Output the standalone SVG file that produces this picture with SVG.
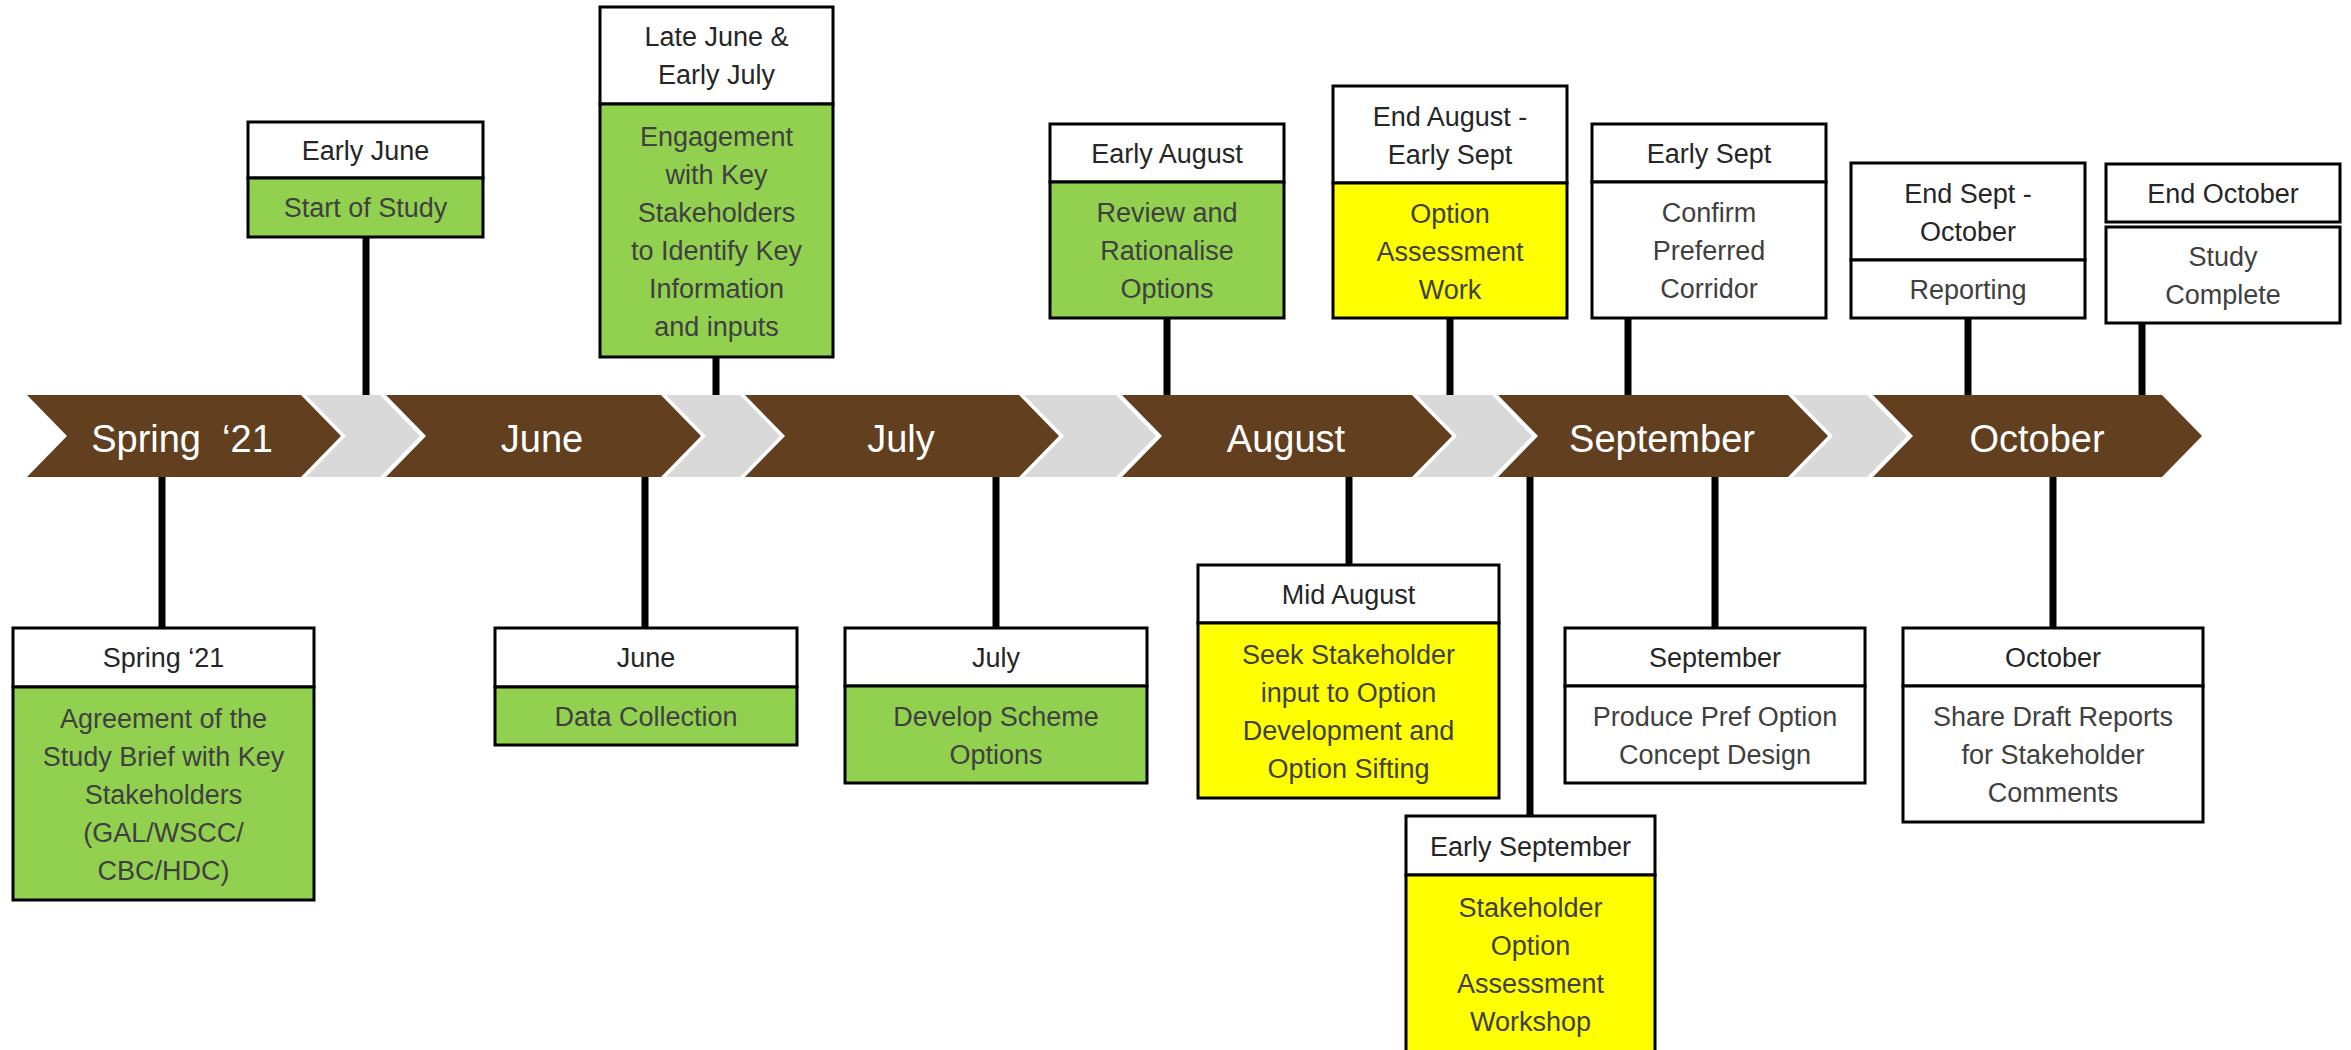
<svg xmlns="http://www.w3.org/2000/svg" width="2351" height="1050" viewBox="0 0 2351 1050">
<style>
text{font-family:"Liberation Sans",Arial,sans-serif;text-anchor:middle}
.ht{font-size:27px;fill:#262626}
.bt{font-size:27px;fill:#404040}
.mt{font-size:38px;fill:#ffffff}
.hdr{fill:#ffffff;stroke:#000;stroke-width:3}
.grn{fill:#92D050;stroke:#000;stroke-width:3}
.yel{fill:#FFFF00;stroke:#000;stroke-width:3}
.wht{fill:#ffffff;stroke:#000;stroke-width:3}
.brown{fill:#613F1F}
.grey{fill:#D9D9D9}
.conn line{stroke:#000;stroke-width:7}
</style>
<rect width="2351" height="1050" fill="#ffffff"/>
<g id="connectors" class="conn">
<line x1="366" y1="237" x2="366" y2="396"/>
<line x1="716" y1="357" x2="716" y2="396"/>
<line x1="1167" y1="318" x2="1167" y2="396"/>
<line x1="1450" y1="318" x2="1450" y2="396"/>
<line x1="1628" y1="318" x2="1628" y2="396"/>
<line x1="1968" y1="318" x2="1968" y2="396"/>
<line x1="2142" y1="323" x2="2142" y2="396"/>
<line x1="162" y1="476" x2="162" y2="628"/>
<line x1="645" y1="476" x2="645" y2="628"/>
<line x1="996" y1="476" x2="996" y2="628"/>
<line x1="1349" y1="476" x2="1349" y2="565"/>
<line x1="1530" y1="476" x2="1530" y2="816"/>
<line x1="1715" y1="476" x2="1715" y2="628"/>
<line x1="2053" y1="476" x2="2053" y2="628"/>
</g>
<g id="timeline">
<polygon class="grey" points="306,395 380,395 420,436 380,477 306,477 346,436"/>
<polygon class="grey" points="666,395 740,395 780,436 740,477 666,477 706,436"/>
<polygon class="grey" points="1024,395 1116,395 1156,436 1116,477 1024,477 1064,436"/>
<polygon class="grey" points="1417,395 1492,395 1532,436 1492,477 1417,477 1457,436"/>
<polygon class="grey" points="1793,395 1867,395 1907,436 1867,477 1793,477 1833,436"/>
<g id="m-spring"><polygon class="brown" points="27,395 301,395 341,436 301,477 27,477 67,436"/><text class="mt" x="182" y="452">Spring&#160; ‘21</text></g>
<g id="m-june"><polygon class="brown" points="386,395 661,395 701,436 661,477 386,477 426,436"/><text class="mt" x="542" y="452">June</text></g>
<g id="m-july"><polygon class="brown" points="745,395 1019,395 1059,436 1019,477 745,477 785,436"/><text class="mt" x="901" y="452">July</text></g>
<g id="m-august"><polygon class="brown" points="1122,395 1412,395 1452,436 1412,477 1122,477 1162,436"/><text class="mt" x="1286" y="452">August</text></g>
<g id="m-september"><polygon class="brown" points="1498,395 1788,395 1828,436 1788,477 1498,477 1538,436"/><text class="mt" x="1662" y="452">September</text></g>
<g id="m-october"><polygon class="brown" points="1873,395 2162,395 2202,436 2162,477 1873,477 1913,436"/><text class="mt" x="2037" y="452">October</text></g>
</g>
<g id="n-early-june">
<rect class="hdr" x="248" y="122" width="235" height="56"/>
<rect class="grn" x="248" y="178" width="235" height="59"/>
<text class="ht" x="365.5" y="160">Early June</text>
<text class="bt" x="365.5" y="217">Start of Study</text>
</g>
<g id="n-late-june">
<rect class="hdr" x="600" y="7" width="233" height="97"/>
<rect class="grn" x="600" y="104" width="233" height="253"/>
<text class="ht" x="716.5" y="46">Late June &amp;</text>
<text class="ht" x="716.5" y="84">Early July</text>
<text class="bt" x="716.5" y="145.5">Engagement</text>
<text class="bt" x="716.5" y="183.5">with Key</text>
<text class="bt" x="716.5" y="221.5">Stakeholders</text>
<text class="bt" x="716.5" y="259.5">to Identify Key</text>
<text class="bt" x="716.5" y="297.5">Information</text>
<text class="bt" x="716.5" y="335.5">and inputs</text>
</g>
<g id="n-early-august">
<rect class="hdr" x="1050" y="124" width="234" height="58"/>
<rect class="grn" x="1050" y="182" width="234" height="136"/>
<text class="ht" x="1167" y="163">Early August</text>
<text class="bt" x="1167" y="222">Review and</text>
<text class="bt" x="1167" y="260">Rationalise</text>
<text class="bt" x="1167" y="298">Options</text>
</g>
<g id="n-end-august">
<rect class="hdr" x="1333" y="86" width="234" height="97"/>
<rect class="yel" x="1333" y="183" width="234" height="135"/>
<text class="ht" x="1450" y="125.5">End August -</text>
<text class="ht" x="1450" y="163.5">Early Sept</text>
<text class="bt" x="1450" y="222.5">Option</text>
<text class="bt" x="1450" y="260.5">Assessment</text>
<text class="bt" x="1450" y="298.5">Work</text>
</g>
<g id="n-early-sept">
<rect class="hdr" x="1592" y="124" width="234" height="58"/>
<rect class="wht" x="1592" y="182" width="234" height="136"/>
<text class="ht" x="1709" y="163">Early Sept</text>
<text class="bt" x="1709" y="222">Confirm</text>
<text class="bt" x="1709" y="260">Preferred</text>
<text class="bt" x="1709" y="298">Corridor</text>
</g>
<g id="n-end-sept">
<rect class="hdr" x="1851" y="163" width="234" height="97"/>
<rect class="wht" x="1851" y="260" width="234" height="58"/>
<text class="ht" x="1968" y="202.5">End Sept -</text>
<text class="ht" x="1968" y="240.5">October</text>
<text class="bt" x="1968" y="299">Reporting</text>
</g>
<g id="n-end-october">
<rect class="hdr" x="2106" y="164" width="234" height="58"/>
<rect class="wht" x="2106" y="227" width="234" height="96"/>
<text class="ht" x="2223" y="203">End October</text>
<text class="bt" x="2223" y="266">Study</text>
<text class="bt" x="2223" y="304">Complete</text>
</g>
<g id="n-spring">
<rect class="hdr" x="13" y="628" width="301" height="59"/>
<rect class="grn" x="13" y="687" width="301" height="213"/>
<text class="ht" x="163.5" y="667">Spring ‘21</text>
<text class="bt" x="163.5" y="727.5">Agreement of the</text>
<text class="bt" x="163.5" y="765.5">Study Brief with Key</text>
<text class="bt" x="163.5" y="803.5">Stakeholders</text>
<text class="bt" x="163.5" y="841.5">(GAL/WSCC/</text>
<text class="bt" x="163.5" y="879.5">CBC/HDC)</text>
</g>
<g id="n-june">
<rect class="hdr" x="495" y="628" width="302" height="59"/>
<rect class="grn" x="495" y="687" width="302" height="58"/>
<text class="ht" x="646" y="667">June</text>
<text class="bt" x="646" y="726">Data Collection</text>
</g>
<g id="n-july">
<rect class="hdr" x="845" y="628" width="302" height="58"/>
<rect class="grn" x="845" y="686" width="302" height="97"/>
<text class="ht" x="996" y="667">July</text>
<text class="bt" x="996" y="725.5">Develop Scheme</text>
<text class="bt" x="996" y="763.5">Options</text>
</g>
<g id="n-mid-august">
<rect class="hdr" x="1198" y="565" width="301" height="58"/>
<rect class="yel" x="1198" y="623" width="301" height="175"/>
<text class="ht" x="1348.5" y="604">Mid August</text>
<text class="bt" x="1348.5" y="663.5">Seek Stakeholder</text>
<text class="bt" x="1348.5" y="701.5">input to Option</text>
<text class="bt" x="1348.5" y="739.5">Development and</text>
<text class="bt" x="1348.5" y="777.5">Option Sifting</text>
</g>
<g id="n-early-september">
<rect class="hdr" x="1406" y="816" width="249" height="59"/>
<rect class="yel" x="1406" y="875" width="249" height="185"/>
<text class="ht" x="1530.5" y="855.5">Early September</text>
<text class="bt" x="1530.5" y="917">Stakeholder</text>
<text class="bt" x="1530.5" y="955">Option</text>
<text class="bt" x="1530.5" y="993">Assessment</text>
<text class="bt" x="1530.5" y="1031">Workshop</text>
</g>
<g id="n-september">
<rect class="hdr" x="1565" y="628" width="300" height="58"/>
<rect class="wht" x="1565" y="686" width="300" height="97"/>
<text class="ht" x="1715" y="667">September</text>
<text class="bt" x="1715" y="725.5">Produce Pref Option</text>
<text class="bt" x="1715" y="763.5">Concept Design</text>
</g>
<g id="n-october">
<rect class="hdr" x="1903" y="628" width="300" height="58"/>
<rect class="wht" x="1903" y="686" width="300" height="136"/>
<text class="ht" x="2053" y="667">October</text>
<text class="bt" x="2053" y="726">Share Draft Reports</text>
<text class="bt" x="2053" y="764">for Stakeholder</text>
<text class="bt" x="2053" y="802">Comments</text>
</g>
</svg>
